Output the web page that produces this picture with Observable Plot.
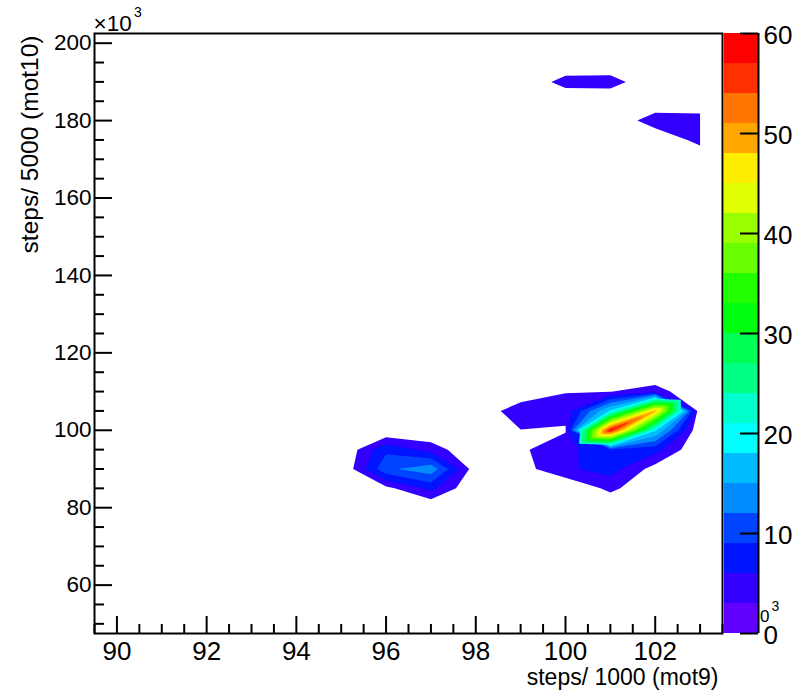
<!DOCTYPE html>
<html>
<head>
<meta charset="utf-8">
<script src="https://cdn.jsdelivr.net/npm/d3@7"></script>
<script src="https://cdn.jsdelivr.net/npm/@observablehq/plot@0.6"></script>
<style>
  body { margin: 0; background: #fff; }
  #wrap { position: relative; width: 803px; height: 696px; }
  #wrap svg { position: absolute; top: 0; }
</style>
</head>
<body>
<div id="wrap"></div>
<script>
// ---- data (z in thousands) ----
const xCenters = [90, 91, 92, 93, 94, 95, 96, 97, 98, 99, 100, 101, 102, 103];
const yCenters = [50, 55, 60, 65, 70, 75, 80, 85, 90, 95, 100, 105, 110, 115, 120, 125, 130, 135, 140, 145, 150, 155, 160, 165, 170, 175, 180, 185, 190, 195, 200];
// non-empty bins
const binX = [100, 101, 102, 103, 103, 96, 97, 96, 97, 98, 96, 97, 100, 101, 102, 99, 100, 101, 102, 99, 100, 101, 102, 99, 100, 101, 102, 99, 100, 101, 102, 101];
const binY = [190, 190, 180, 180, 175, 95, 95, 90, 90, 90, 85, 85, 110, 110, 110, 105, 105, 105, 105, 100, 100, 100, 100, 95, 95, 95, 95, 90, 90, 90, 90, 85];
const binZ = [4.4, 4.6, 5.0, 4.7, 4.2, 8.3, 4.8, 11.3, 14.0, 1.1, 2.1, 6.8, 2.9, 2.9, 4.5, 5.4, 4.0, 18.5, 49, 2.9, 2.7, 58.5, 18.5, 2.5, 5.0, 8.5, 7.1, 1.7, 5.5, 7.2, 1.7, 3.85];

const levels = [0, 3, 6, 9, 12, 15, 18, 21, 24, 27, 30, 33, 36, 39, 42, 45, 48, 51, 54, 57, 60];
const palette = ["#6200ff", "#3300ff", "#0014ff", "#0044ff", "#008bff", "#00bbff", "#00fffc", "#00ffcc", "#00ff85", "#00ff55",
                 "#00ff0e", "#22ff00", "#69ff00", "#99ff00", "#e0ff00", "#ffee00", "#ffa700", "#ff7700", "#ff3000", "#ff0000"];

const xMajor = [90, 92, 94, 96, 98, 100, 102];
const yMajor = [60, 80, 100, 120, 140, 160, 180, 200];
const zTicks = [0, 10, 20, 30, 40, 50, 60];

const xTitle = "steps/ 1000 (mot9)";
const yTitle = "steps/ 5000 (mot10)";

// ---- grid of all bins (empty bins = 0) ----
const W = xCenters.length, H = yCenters.length;
const grid = new Array(W * H).fill(0);
binX.forEach((bx, k) => {
  const i = xCenters.indexOf(bx), j = yCenters.indexOf(binY[k]);
  grid[i + j * W] = binZ[k];
});
const points = grid.map((z, n) => ({x: xCenters[n % W], y: yCenters[Math.floor(n / W)], z}));

const dx = xCenters[1] - xCenters[0], dy = yCenters[1] - yCenters[0];
const X0 = xCenters[0] - dx / 2, X1 = xCenters[W - 1] + dx / 2;
const Y0 = yCenters[0] - dy / 2, Y1 = yCenters[H - 1] + dy / 2;

const xMinor = d3.range(X0, X1 + 0.01, 0.5).filter(v => !xMajor.includes(v));
const yMinor = d3.range(50, 201, 5).filter(v => !yMajor.includes(v));

const thresholds = levels.slice(1, -1);
const lowThresholds = thresholds.slice(0, 6);    // 3..18: cell-edge contouring
const highThresholds = thresholds.slice(6);      // 21..57: triangulated interpolation (ridge stays connected)
const colorScale = {type: "threshold", domain: thresholds, range: palette};

const mL = 94, mR = 81, mT = 33, mB = 63, WIDTH = 803, HEIGHT = 696;
const ypp = (Y1 - Y0) / (HEIGHT - mT - mB);  // data units per pixel
const xpp = (X1 - X0) / (WIDTH - mL - mR);
const font = "'Liberation Sans', Arial, Helvetica, sans-serif";

const chart = Plot.plot({
  width: WIDTH, height: HEIGHT,
  marginLeft: mL, marginRight: mR, marginTop: mT, marginBottom: mB,
  x: {domain: [X0, X1], axis: null},
  y: {domain: [Y0, Y1], axis: null},
  color: colorScale,
  style: {fontFamily: font, background: "white", overflow: "visible"},
  marks: [
    Plot.contour(grid, {width: W, height: H, x1: X0, x2: X1, y1: Y0, y2: Y1,
      thresholds: lowThresholds, fill: Plot.identity, stroke: "none"}),
    Plot.contour(points, {x: "x", y: "y", fill: "z", interpolate: "barycentric",
      pixelSize: 1, thresholds: highThresholds, stroke: "none"}),
    Plot.frame({stroke: "black", strokeWidth: 2}),
    Plot.ruleX(xMajor, {x: d => d, y1: Y0, y2: Y0 + 17 * ypp, stroke: "black", strokeWidth: 2}),
    Plot.ruleX(xMinor, {x: d => d, y1: Y0, y2: Y0 + 9 * ypp, stroke: "black", strokeWidth: 2}),
    Plot.ruleY(yMajor, {y: d => d, x1: X0, x2: X0 + 18 * xpp, stroke: "black", strokeWidth: 2}),
    Plot.ruleY(yMinor, {y: d => d, x1: X0, x2: X0 + 10 * xpp, stroke: "black", strokeWidth: 2}),
    Plot.text(xMajor, {x: d => d, y: Y0, text: d => String(d), dy: 18, fontSize: 26, lineAnchor: "middle", fill: "black"}),
    Plot.text(yMajor, {x: X0, y: d => d, text: d => String(d), dx: -3, textAnchor: "end", lineAnchor: "middle", fontSize: 22.5, fill: "black"}),
    Plot.text([xTitle], {frameAnchor: "bottom-right", text: d => d, textAnchor: "end", lineAnchor: "middle", dx: -4, dy: 44.5, fontSize: 23, fill: "black"}),
    Plot.text([yTitle], {frameAnchor: "top-left", text: d => d, textAnchor: "end", lineAnchor: "middle", rotate: -90, dx: -64, dy: 2, fontSize: 24.5, fill: "black"}),
    Plot.text(["\u00d710"], {frameAnchor: "top-left", text: d => d, textAnchor: "start", lineAnchor: "middle", dx: -1, dy: -10, fontSize: 22.5, fill: "black"}),
    Plot.text(["3"], {frameAnchor: "top-left", text: d => d, textAnchor: "start", lineAnchor: "middle", dx: 39.5, dy: -21, fontSize: 14, fill: "black"})
  ]
});

// clip the contours to the hull of bin centres (as ROOT does)
{
  const sx = chart.scale("x"), sy = chart.scale("y");
  const ax = sx.apply(xCenters[0]), bx = sx.apply(xCenters[W - 1]);
  const ay = sy.apply(yCenters[H - 1]), by = sy.apply(yCenters[0]);
  const svg = d3.select(chart);
  svg.insert("defs", ":first-child").append("clipPath").attr("id", "hull")
    .append("rect").attr("x", ax).attr("y", ay).attr("width", bx - ax).attr("height", by - ay);
  svg.selectAll('g[aria-label="contour"]').attr("clip-path", "url(#hull)");
}

// ---- colour bar ----
const bands = d3.pairs(levels);
const cbar = Plot.plot({
  width: 81, height: HEIGHT,
  marginLeft: 2, marginRight: 45, marginTop: mT, marginBottom: mB,
  x: {domain: [0, 1], axis: null},
  y: {domain: [levels[0], levels[levels.length - 1]], axis: null},
  color: colorScale,
  style: {fontFamily: font, background: "transparent", overflow: "visible"},
  marks: [
    Plot.text(["\u00d710"], {frameAnchor: "bottom-right", text: d => d, textAnchor: "end", lineAnchor: "middle", dx: 11, dy: -16.5, fontSize: 17, fill: "black"}),
    Plot.text(["3"], {frameAnchor: "bottom-right", text: d => d, textAnchor: "start", lineAnchor: "middle", dx: 13, dy: -27, fontSize: 14, fill: "black"}),
    Plot.rect(bands, {x1: 0, x2: 1, y1: d => d[0], y2: d => d[1], fill: d => d[0]}),
    Plot.ruleX([1], {stroke: "black", strokeWidth: 2}),
    Plot.ruleY(zTicks, {y: d => d, x1: 1 - 18 / 34, x2: 1, stroke: "black", strokeWidth: 2}),
    Plot.text(zTicks, {x: 1, y: d => d, text: d => String(d), dx: 5, dy: 2, textAnchor: "start", lineAnchor: "middle", fontSize: 26, fill: "black"})
  ]
});
cbar.style.left = "722px";

const wrap = document.getElementById("wrap");
chart.style.left = "0px";
wrap.appendChild(chart);
wrap.appendChild(cbar);
</script>
</body>
</html>
